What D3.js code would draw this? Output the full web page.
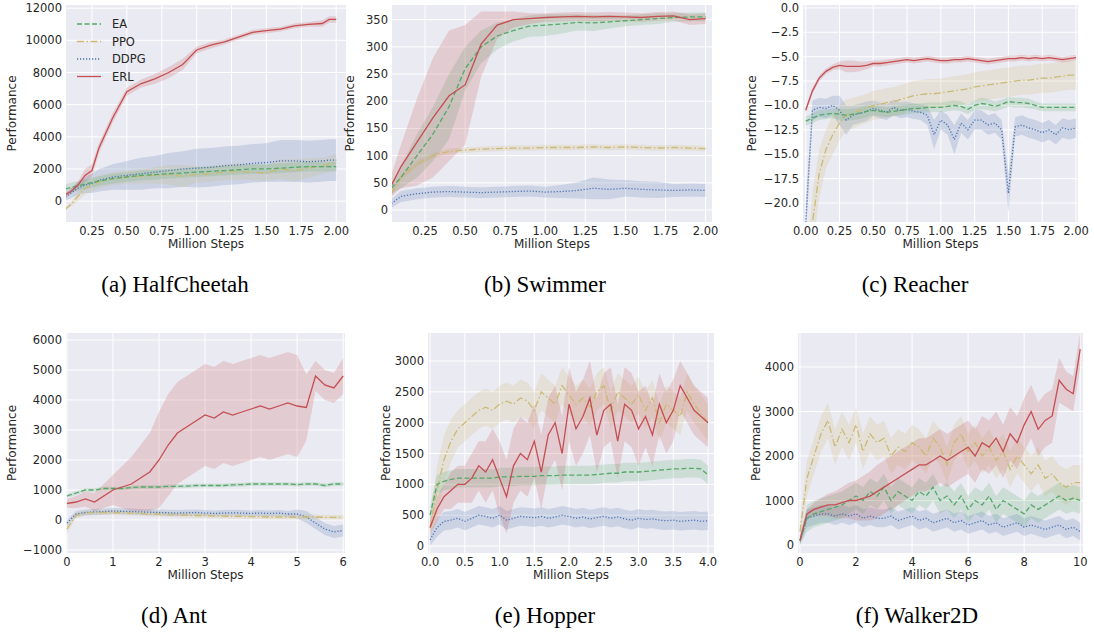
<!DOCTYPE html>
<html><head><meta charset="utf-8">
<script src="https://cdn.jsdelivr.net/npm/d3@7"></script>
<style>body{margin:0;background:#fff}</style>
</head><body>
<div id="chart"></div>
<script>
// HalfCheetah
const aX = [0.06,0.1,0.15,0.2,0.25,0.3,0.4,0.5,0.6,0.7,0.8,0.9,1.0,1.1,1.2,1.3,1.4,1.5,1.6,1.7,1.8,1.9,1.95,2.0];
const aERL = [400,600,1000,1600,1900,3300,5200,6800,7300,7600,8000,8500,9400,9700,9900,10200,10500,10600,10700,10900,11000,11050,11300,11300];
const aERLsd = [150,150,200,400,400,300,300,250,250,300,350,350,200,200,150,150,150,150,150,150,150,200,200,200];
const aEA = [750,850,950,1050,1150,1250,1400,1500,1600,1650,1700,1750,1800,1850,1900,1950,2000,2000,2050,2100,2150,2150,2150,2150];
const aEAsd = [300,300,300,300,300,300,300,300,300,300,300,300,300,300,300,300,300,300,300,300,300,300,300,300];
const aPPO = [-500,-200,300,800,1000,1200,1400,1500,1550,1600,1650,1550,1650,1700,1800,1850,1800,1750,2000,1900,2050,2200,2300,2400];
const aPPOsd = [100,150,300,400,400,400,400,400,450,500,600,700,500,500,500,500,500,500,600,700,600,500,500,500];
const aDDPG = [250,500,800,1000,1100,1300,1500,1600,1700,1800,1900,2000,2050,2100,2200,2250,2350,2400,2500,2500,2450,2500,2550,2550];
const aDDPGsd = [200,300,400,500,600,700,800,900,1000,1000,1100,1100,1200,1200,1200,1200,1200,1200,1300,1300,1300,1300,1300,1300];
// Swimmer
const bX = [0.04,0.1,0.2,0.3,0.4,0.5,0.6,0.7,0.8,0.9,1.0,1.1,1.2,1.3,1.4,1.5,1.6,1.7,1.8,1.9,2.0];
const bERL = [45,80,125,170,210,230,305,340,350,352,354,355,356,355,356,355,354,356,357,350,352];
const bERLsd = [20,40,80,110,120,110,60,25,15,10,8,8,8,8,8,8,8,8,8,10,10];
const bEA = [40,60,100,140,190,260,300,320,330,338,340,342,345,344,346,348,350,352,354,355,355];
const bEAsd = [10,20,40,50,60,40,30,25,20,20,20,18,15,15,12,10,10,10,8,8,8];
const bPPO = [30,60,85,100,108,110,112,113,114,114,115,115,115,116,115,116,115,114,115,114,113];
const bPPOsd = [5,5,5,5,5,5,5,5,5,5,5,5,5,5,5,5,5,5,5,5,5];
const bDDPG = [12,25,30,33,34,33,32,33,34,35,33,34,36,40,38,40,38,37,36,37,36];
const bDDPGsd = [8,10,10,10,10,10,10,10,10,10,10,12,15,20,18,15,15,15,12,12,12];
// Reacher
const cX = [0,0.05,0.1,0.15,0.2,0.25,0.3,0.35,0.4,0.45,0.5,0.55,0.6,0.65,0.7,0.75,0.8,0.85,0.9,0.95,1.0,1.05,1.1,1.15,1.2,1.25,1.3,1.35,1.4,1.45,1.5,1.55,1.6,1.65,1.7,1.75,1.8,1.85,1.9,1.95,2.0];
const cERL = [-10.5,-8.5,-7.2,-6.5,-6.1,-5.9,-6.0,-6.0,-6.0,-5.9,-5.7,-5.7,-5.6,-5.5,-5.4,-5.3,-5.4,-5.3,-5.2,-5.3,-5.4,-5.4,-5.3,-5.3,-5.2,-5.3,-5.4,-5.5,-5.4,-5.3,-5.2,-5.2,-5.1,-5.2,-5.1,-5.2,-5.1,-5.2,-5.3,-5.2,-5.1];
const cERLsd = [0.3,0.3,0.3,0.3,0.3,0.4,0.6,0.6,0.5,0.4,0.3,0.3,0.3,0.3,0.3,0.3,0.3,0.3,0.3,0.3,0.3,0.3,0.3,0.3,0.3,0.3,0.3,0.3,0.3,0.3,0.3,0.3,0.3,0.3,0.3,0.3,0.3,0.3,0.3,0.3,0.3];
const cEA = [-11.6,-11.3,-11.0,-10.9,-10.8,-10.9,-11.0,-10.9,-10.8,-10.6,-10.5,-10.6,-10.7,-10.6,-10.5,-10.4,-10.3,-10.3,-10.2,-10.2,-10.2,-10.1,-10.0,-10.1,-10.4,-10.0,-9.8,-9.9,-10.1,-9.9,-9.6,-9.7,-9.7,-9.8,-10.0,-10.2,-10.2,-10.2,-10.2,-10.2,-10.2];
const cEAsd = [0.5,0.5,0.5,0.5,0.5,0.6,0.6,0.6,0.6,0.6,0.5,0.5,0.5,0.5,0.5,0.5,0.5,0.5,0.5,0.5,0.5,0.5,0.5,0.5,0.5,0.5,0.6,0.6,0.5,0.5,0.5,0.5,0.5,0.5,0.4,0.4,0.4,0.4,0.4,0.4,0.4];
const cPPO = [-30,-22,-17,-14.5,-13,-11.8,-11,-10.8,-10.5,-10.3,-10.0,-9.9,-9.7,-9.6,-9.4,-9.2,-9.0,-8.9,-8.8,-8.8,-8.7,-8.6,-8.5,-8.4,-8.3,-8.1,-8.0,-7.9,-7.8,-7.7,-7.6,-7.5,-7.4,-7.4,-7.3,-7.2,-7.2,-7.1,-7.0,-6.9,-6.9];
const cPPOsd = [3,3,2.5,2,2,1.8,1.6,1.6,1.5,1.5,1.5,1.5,1.5,1.5,1.5,1.5,1.5,1.5,1.5,1.5,1.5,1.5,1.5,1.5,1.5,1.5,1.5,1.5,1.5,1.5,1.5,1.5,1.5,1.5,1.5,1.5,1.5,1.5,1.5,1.5,1.5];
const cDDPG = [-22,-10.5,-10.2,-10.3,-10.0,-10.5,-11.5,-11.0,-10.8,-10.6,-10.3,-10.5,-10.7,-10.2,-10.5,-10.4,-10.6,-10.7,-11.0,-13.0,-11.5,-12.0,-13.5,-11.8,-12.5,-11.5,-11.5,-12.0,-11.8,-12.5,-19.0,-12.2,-12.0,-12.3,-12.5,-12.8,-12.5,-13.0,-12.3,-12.5,-12.3];
const cDDPGsd = [2,1,1,1,1,1.5,1.5,1,1,1,0.8,0.8,0.8,0.8,0.8,0.8,0.8,0.8,1,1.5,1,1,1.5,1,1,1,1,1,1,1,2,1,1,1,1,1,1,1,1,1,1];
// Ant
const dX = [0,0.2,0.4,0.6,0.8,1.0,1.2,1.4,1.6,1.8,2.0,2.2,2.4,2.6,2.8,3.0,3.2,3.4,3.6,3.8,4.0,4.2,4.4,4.6,4.8,5.0,5.2,5.4,5.6,5.8,6.0];
const dERL = [550,600,700,600,800,1000,1100,1200,1400,1600,2000,2500,2900,3100,3300,3500,3400,3600,3500,3600,3700,3800,3700,3800,3900,3800,3750,4800,4500,4400,4800];
const dERLsd = [150,200,250,300,400,500,700,900,1100,1300,1600,1700,1700,1700,1700,1700,1700,1700,1700,1700,1700,1700,1700,1700,1700,1700,1100,500,500,500,600];
const dEA = [800,900,1000,1000,1050,1050,1050,1080,1100,1100,1100,1120,1120,1130,1150,1150,1150,1150,1170,1180,1200,1200,1200,1200,1200,1180,1200,1200,1150,1200,1200];
const dEAsd = [60,60,60,60,60,60,60,60,60,60,60,60,60,60,60,60,60,60,60,60,60,60,60,60,60,60,60,60,60,60,60];
const dPPO = [-300,150,230,250,250,250,240,230,220,200,200,180,170,160,150,150,140,130,120,120,110,110,100,100,100,100,100,100,90,90,90];
const dPPOsd = [150,80,80,80,80,80,80,80,80,80,80,80,80,80,80,80,80,80,80,80,80,80,80,80,80,80,80,80,80,80,80];
const dDDPG = [-100,200,250,270,280,300,290,280,270,260,250,240,230,240,250,230,220,230,240,230,220,230,220,230,200,200,100,-100,-300,-400,-350];
const dDDPGsd = [100,100,100,100,100,100,100,100,100,100,100,100,100,100,100,100,100,100,100,100,100,100,100,100,100,150,200,200,200,200,200];
// Hopper
const eX = [0,0.1,0.2,0.3,0.4,0.5,0.6,0.7,0.8,0.9,1.0,1.1,1.2,1.3,1.4,1.5,1.6,1.7,1.8,1.9,2.0,2.1,2.2,2.3,2.4,2.5,2.6,2.7,2.8,2.9,3.0,3.1,3.2,3.3,3.4,3.5,3.6,3.7,3.8,3.9,4.0];
const eERL = [300,600,800,900,1000,1000,1100,1300,1200,1400,1100,800,1300,1500,1400,1700,1200,1800,2000,1500,2300,1900,2100,2400,1800,2200,2300,1700,2300,2200,1900,2100,1800,2300,2000,2200,2600,2400,2200,2100,2000];
const eERLsd = [100,200,200,300,300,300,400,400,500,500,600,600,600,600,600,600,600,600,600,600,600,600,600,600,600,600,600,600,600,600,600,500,500,500,500,500,400,400,400,400,400];
const eEA = [500,1000,1050,1080,1100,1100,1100,1100,1100,1100,1120,1120,1120,1130,1130,1130,1140,1140,1140,1150,1150,1150,1150,1150,1160,1170,1180,1180,1200,1200,1200,1210,1220,1230,1240,1250,1250,1260,1260,1250,1150];
const eEAsd = [150,150,150,150,150,150,150,150,150,150,150,150,150,150,150,150,150,150,150,150,150,150,150,150,150,150,150,150,150,150,150,150,150,150,150,150,150,150,150,150,150];
const ePPO = [300,900,1400,1700,1900,2000,2100,2200,2250,2200,2300,2350,2300,2400,2350,2200,2500,2400,2300,2600,2450,2300,2400,2250,2500,2600,2200,2500,2400,2300,2450,2200,2400,2000,2300,2200,2100,2500,2300,2150,2000];
const ePPOsd = [200,400,400,350,300,300,300,300,300,300,300,300,300,300,300,300,300,300,300,300,300,300,300,300,300,300,300,300,300,300,300,300,300,300,300,300,300,300,300,300,300];
const eDDPG = [100,300,400,420,450,400,450,500,480,450,500,420,450,480,470,460,480,450,470,500,480,450,470,440,460,480,450,470,440,420,450,430,440,420,410,420,400,410,420,400,410];
const eDDPGsd = [100,150,150,150,150,150,150,150,150,150,150,150,150,150,150,150,150,150,150,150,150,150,150,150,150,150,150,150,150,150,150,150,150,150,150,150,150,150,150,150,150];
// Walker2D
const fX = [0,0.25,0.5,0.75,1,1.25,1.5,1.75,2,2.25,2.5,2.75,3,3.25,3.5,3.75,4,4.25,4.5,4.75,5,5.25,5.5,5.75,6,6.25,6.5,6.75,7,7.25,7.5,7.75,8,8.25,8.5,8.75,9,9.25,9.5,9.75,10];
const fERL = [100,700,800,850,900,900,950,1000,1000,1050,1100,1200,1300,1400,1500,1600,1700,1800,1800,1900,2000,1900,2000,2100,2200,2000,2300,2200,2400,2100,2500,2300,2700,3000,2600,2800,2900,3700,3500,3400,4400];
const fERLsd = [100,100,150,200,250,300,350,400,450,500,550,600,600,600,600,600,600,600,600,600,600,600,600,600,600,600,600,600,600,600,600,600,600,600,600,600,600,500,400,400,400];
const fEA = [100,600,700,750,800,850,900,1000,1100,1000,1200,1100,1300,1000,1200,1100,1000,1200,1100,1300,1000,1100,900,1100,800,1000,900,1100,800,1000,900,800,700,900,800,900,1000,1100,1000,1050,1000];
const fEAsd = [100,300,300,300,300,300,300,300,300,300,300,300,300,300,300,300,300,300,300,300,300,300,300,300,300,300,300,300,300,300,300,300,300,300,300,300,300,300,300,300,300];
const fPPO = [300,1500,2000,2500,2800,2200,2600,2300,2700,2100,2500,2300,2400,2000,2200,2100,2300,2200,2000,2400,2200,1800,2300,2500,2100,2300,2000,2200,1900,2100,1700,2000,1800,1600,1800,1500,1600,1400,1300,1400,1400];
const fPPOsd = [200,400,400,400,400,400,400,400,400,400,400,400,400,400,400,400,400,400,400,400,400,400,400,400,400,400,400,400,400,400,400,400,400,400,400,400,400,400,400,400,400];
const fDDPG = [100,600,650,700,700,650,700,650,700,600,650,600,600,650,550,600,650,550,600,500,550,600,500,550,450,500,550,450,500,400,450,500,400,450,400,350,400,450,350,400,300];
const fDDPGsd = [100,200,200,200,200,200,200,200,200,200,200,200,200,200,200,200,200,200,200,200,200,200,200,200,200,200,200,200,200,200,200,200,200,200,200,200,200,200,200,200,200];

const captions = ["(a) HalfCheetah","(b) Swimmer","(c) Reacher","(d) Ant","(e) Hopper","(f) Walker2D"];

const colors = {EA:"#55a868", PPO:"#ccb974", DDPG:"#4c72b0", ERL:"#c44e52"};
const dashes = {EA:"5,2.5", PPO:"7,2.5,1.5,2.5", DDPG:"1.2,1.8", ERL:null};

const panels = [
  {x:aX, s:{EA:[aEA,aEAsd],PPO:[aPPO,aPPOsd],DDPG:[aDDPG,aDDPGsd],ERL:[aERL,aERLsd]}, box:[66,5,346,222], xd:[0.064,2.07], yd:[-1300,12200], xt:d3.range(0.25,2.01,0.25), yt:d3.range(0,12001,2000), xf:d3.format(".2f"), yf:d3.format("d"), cap:175, capY:292, legend:true},
  {x:bX, s:{EA:[bEA,bEAsd],PPO:[bPPO,bPPOsd],DDPG:[bDDPG,bDDPGsd],ERL:[bERL,bERLsd]}, box:[392,5,712,222], xd:[0.044,2.04], yd:[-22,377], xt:d3.range(0.25,2.01,0.25), yt:d3.range(0,351,50), xf:d3.format(".2f"), yf:d3.format("d"), cap:545, capY:292},
  {x:cX, s:{EA:[cEA,cEAsd],PPO:[cPPO,cPPOsd],DDPG:[cDDPG,cDDPGsd],ERL:[cERL,cERLsd]}, box:[803,5,1078,222], xd:[-0.02,2.015], yd:[-21.95,0.3], xt:d3.range(0,2.01,0.25), yt:d3.range(0,-20.1,-2.5), xf:d3.format(".2f"), yf:d3.format(".1f"), cap:915, capY:292},
  {x:dX, s:{EA:[dEA,dEAsd],PPO:[dPPO,dPPOsd],DDPG:[dDDPG,dDDPGsd],ERL:[dERL,dERLsd]}, box:[66,333,345,553], xd:[-0.02,6.04], yd:[-1100,6233], xt:d3.range(0,7,1), yt:d3.range(-1000,6001,1000), xf:d3.format("d"), yf:d3.format("d"), cap:174, capY:623},
  {x:eX, s:{EA:[eEA,eEAsd],PPO:[ePPO,ePPOsd],DDPG:[eDDPG,eDDPGsd],ERL:[eERL,eERLsd]}, box:[428,333,714,553], xd:[-0.03,4.086], yd:[-113,3454], xt:d3.range(0,4.01,0.5), yt:d3.range(0,3001,500), xf:d3.format(".1f"), yf:d3.format("d"), cap:545, capY:623},
  {x:fX, s:{EA:[fEA,fEAsd],PPO:[fPPO,fPPOsd],DDPG:[fDDPG,fDDPGsd],ERL:[fERL,fERLsd]}, box:[798,333,1083,553], xd:[-0.07,10.1], yd:[-180,4764], xt:d3.range(0,11,2), yt:d3.range(0,4001,1000), xf:d3.format("d"), yf:d3.format("d"), cap:917, capY:623}
];

const svg = d3.select("#chart").append("svg").attr("width",1094).attr("height",634)
  .style("font-family","'DejaVu Sans', sans-serif");

const minus = s => s.replace("-", "\u2212");

panels.forEach((p, i) => {
  const [x0,y0,x1,y1] = p.box;
  const x = d3.scaleLinear().domain(p.xd).range([x0,x1]);
  const y = d3.scaleLinear().domain(p.yd).range([y1,y0]);
  const g = svg.append("g");
  g.append("rect").attr("x",x0).attr("y",y0).attr("width",x1-x0).attr("height",y1-y0).attr("fill","#eaeaf2");
  g.selectAll(".gx").data(p.xt).join("line").attr("x1",d=>x(d)).attr("x2",d=>x(d)).attr("y1",y0).attr("y2",y1).attr("stroke","#fff").attr("stroke-width",1);
  g.selectAll(".gy").data(p.yt).join("line").attr("y1",d=>y(d)).attr("y2",d=>y(d)).attr("x1",x0).attr("x2",x1).attr("stroke","#fff").attr("stroke-width",1);
  g.append("g").selectAll("text").data(p.xt).join("text").attr("x",d=>x(d)).attr("y",y1+13).attr("text-anchor","middle")
    .attr("font-size",11.5).attr("fill","#262626").text(d=>minus(p.xf(d)));
  g.append("g").selectAll("text").data(p.yt).join("text").attr("x",x0-4).attr("y",d=>y(d)).attr("dy","0.35em").attr("text-anchor","end")
    .attr("font-size",11.5).attr("fill","#262626").text(d=>minus(p.yf(d)));
  g.append("text").attr("x",(x0+x1)/2).attr("y",y1+26).attr("text-anchor","middle").attr("font-size",12).attr("fill","#262626").text("Million Steps");
  const labX = x0 - (i%3===0 ? 50 : (i===2 ? 47 : 38));
  g.append("text").attr("transform",`translate(${labX},${(y0+y1)/2}) rotate(-90)`).attr("text-anchor","middle").attr("font-size",12).attr("fill","#262626").text("Performance");
  svg.append("text").attr("x",p.cap).attr("y",p.capY).attr("text-anchor","middle").attr("font-family","'Liberation Serif', serif").attr("font-size",23).attr("fill","#000").text(captions[i]);

  const clipId = "clip"+i;
  svg.append("clipPath").attr("id",clipId).append("rect").attr("x",x0).attr("y",y0).attr("width",x1-x0).attr("height",y1-y0);
  const pg = g.append("g").attr("clip-path",`url(#${clipId})`);
  const order = ["DDPG","PPO","EA","ERL"];
  order.forEach(k => {
    const [m, sd] = p.s[k];
    const area = d3.area().x((d,j)=>x(p.x[j])).y0((d,j)=>y(m[j]-sd[j])).y1((d,j)=>y(m[j]+sd[j]));
    pg.append("path").attr("d",area(m)).attr("fill",colors[k]).attr("opacity",0.2);
  });
  order.forEach(k => {
    const [m] = p.s[k];
    const line = d3.line().x((d,j)=>x(p.x[j])).y(d=>y(d));
    pg.append("path").attr("d",line(m)).attr("fill","none").attr("stroke",colors[k]).attr("stroke-width",1.3)
      .attr("stroke-dasharray",dashes[k]);
  });
  if (p.legend) {
    const keys = ["EA","PPO","DDPG","ERL"];
    const lg = g.append("g");
    keys.forEach((k,j) => {
      const ly = 24 + j*17.5;
      lg.append("line").attr("x1",77).attr("x2",101).attr("y1",ly).attr("y2",ly).attr("stroke",colors[k]).attr("stroke-width",1.3).attr("stroke-dasharray",dashes[k]);
      lg.append("text").attr("x",112).attr("y",ly).attr("dy","0.35em").attr("font-size",11.5).attr("fill","#262626").text(k);
    });
  }
});
</script>
</body></html>
